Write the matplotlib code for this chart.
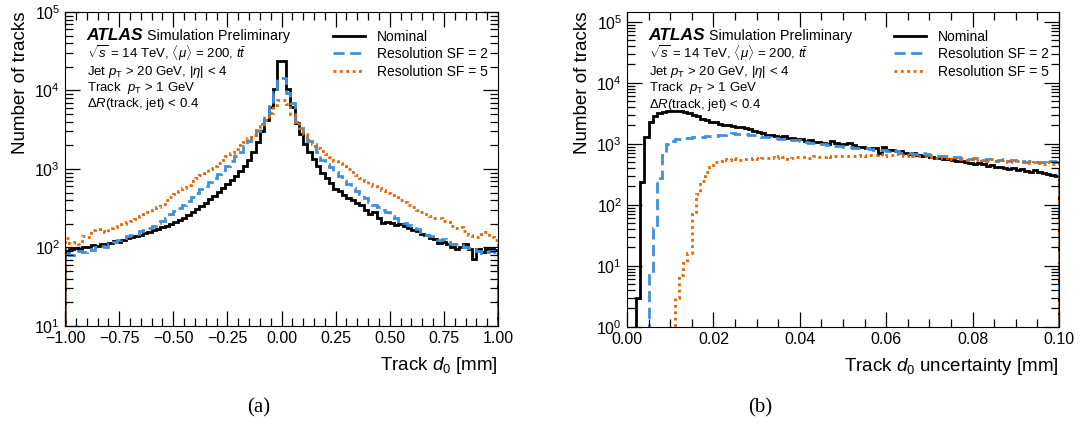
import matplotlib
matplotlib.use("Agg")
import matplotlib.pyplot as plt
import numpy as np
from matplotlib.ticker import MultipleLocator

plt.rcParams['font.family'] = ['Liberation Sans', 'DejaVu Sans']
plt.rcParams['mathtext.fontset'] = 'custom'
plt.rcParams['mathtext.rm'] = 'Liberation Sans'
plt.rcParams['mathtext.it'] = 'Liberation Sans:italic'
plt.rcParams['mathtext.bf'] = 'Liberation Sans:bold'

# ---- (a) track d0, 100 bins in [-1, 1] ----
d0_edges = np.linspace(-1.0, 1.0, 101)
d0_nominal = [
    90, 95, 98, 95, 102, 100, 108, 104, 112, 110,
    115, 120, 118, 125, 130, 136, 140, 145, 152, 158,
    165, 170, 180, 190, 200, 212, 225, 240, 260, 280,
    305, 335, 370, 410, 455, 510, 570, 640, 720, 820,
    950, 1100, 1300, 1650, 2200, 3000, 4200, 6200, 10500, 23500,
    23500, 10500, 6100, 3900, 2800, 2100, 1650, 1350, 1080, 900,
    770, 660, 560, 520, 460, 430, 400, 370, 350, 300,
    270, 285, 240, 205, 210, 205, 195, 200, 185, 175,
    165, 160, 150, 145, 130, 128, 115, 118, 110, 100,
    95, 100, 112, 95, 72, 95, 88, 96, 95, 92]
d0_sf2 = [
    85, 80, 84, 90, 88, 95, 92, 100, 105, 102,
    112, 118, 125, 130, 138, 145, 150, 160, 168, 178,
    190, 205, 220, 240, 265, 290, 320, 350, 390, 440,
    490, 550, 610, 690, 770, 860, 960, 1080, 1250, 1450,
    1650, 1950, 2300, 2500, 3000, 3700, 4800, 6300, 9500, 14400,
    14400, 9300, 6900, 4000, 3300, 2800, 2300, 1950, 1650, 1300,
    1150, 1050, 920, 820, 700, 640, 580, 520, 480, 430,
    380, 350, 330, 300, 280, 250, 235, 220, 205, 195,
    185, 170, 155, 145, 140, 130, 125, 128, 118, 112,
    110, 108, 100, 98, 95, 90, 85, 88, 90, 88]
d0_sf5 = [
    130, 115, 118, 112, 140, 135, 165, 170, 160, 158,
    175, 180, 190, 200, 210, 215, 230, 250, 265, 280,
    300, 330, 360, 400, 440, 480, 520, 570, 630, 700,
    760, 830, 900, 990, 1080, 1180, 1300, 1450, 1600, 1800,
    2000, 2200, 2450, 2700, 3100, 3500, 4200, 5200, 6500, 7600,
    7600, 6800, 5000, 4000, 3300, 2800, 2350, 2100, 1850, 1700,
    1550, 1400, 1280, 1180, 1080, 1000, 920, 830, 760, 700,
    650, 610, 580, 540, 500, 470, 440, 400, 380, 350,
    330, 300, 285, 270, 255, 240, 235, 220, 210, 190,
    175, 180, 160, 145, 140, 135, 150, 155, 135, 125]

# ---- (b) track d0 uncertainty, 100 bins in [0, 0.1] ----
sig_edges = np.linspace(0.0, 0.1, 101)
sig_nominal = [
    0, 0, 3, 235, 1270, 2240, 2900, 3200, 3300, 3400,
    3450, 3480, 3400, 3300, 3150, 3000, 2850, 2600, 2450, 2300,
    2250, 2150, 2050, 2000, 1950, 1880, 1900, 1850, 1750, 1650,
    1580, 1500, 1420, 1380, 1350, 1300, 1320, 1260, 1250, 1200,
    1180, 1120, 1150, 1080, 1060, 1020, 1000, 1120, 1020, 1000,
    980, 1020, 960, 900, 880, 870, 850, 860, 720, 900,
    800, 780, 760, 770, 710, 690, 700, 660, 640, 650,
    600, 590, 580, 570, 560, 540, 520, 530, 500, 480,
    470, 490, 460, 440, 450, 420, 410, 400, 390, 400,
    370, 380, 360, 350, 370, 340, 330, 320, 310, 300]
sig_sf2 = [
    0, 0, 0, 0, 0, 7, 42, 280, 650, 1000,
    1130, 1180, 1220, 1240, 1260, 1280, 1300, 1300, 1320, 1340,
    1350, 1380, 1420, 1450, 1480, 1470, 1450, 1430, 1400, 1380,
    1350, 1300, 1280, 1250, 1230, 1220, 1200, 1180, 1170, 1150,
    1120, 1080, 1050, 1020, 1000, 990, 960, 950, 930, 920,
    900, 880, 870, 860, 850, 840, 820, 800, 790, 780,
    770, 780, 760, 720, 700, 710, 690, 680, 700, 670,
    650, 640, 630, 620, 640, 610, 600, 590, 580, 570,
    580, 560, 550, 570, 540, 530, 550, 560, 520, 540,
    530, 520, 510, 530, 500, 510, 500, 490, 520, 500]
sig_sf5 = [
    0, 0, 0, 0, 0, 0, 0, 0, 0, 0,
    0, 3, 7, 11, 16, 70, 150, 250, 340, 420,
    500, 520, 560, 540, 580, 560, 550, 570, 560, 580,
    570, 590, 580, 600, 580, 640, 600, 560, 590, 600,
    610, 600, 590, 620, 600, 610, 620, 600, 630, 640,
    620, 630, 640, 620, 650, 640, 660, 650, 680, 640,
    650, 660, 670, 650, 640, 660, 620, 640, 630, 620,
    600, 590, 610, 580, 600, 560, 590, 570, 550, 560,
    540, 560, 550, 530, 560, 520, 540, 530, 510, 530,
    520, 500, 510, 490, 500, 480, 470, 500, 460, 480]

labels = ['Nominal', 'Resolution SF = 2', 'Resolution SF = 5']
colors = ['black', '#3f90da', '#e76300']
styles = ['-', (0, (4, 2)), (0, (1, 1.3))]

fig = plt.figure(figsize=(10.84, 4.34), dpi=100)
ax1 = fig.add_axes([0.060, 0.249, 0.3994, 0.7235])
ax2 = fig.add_axes([0.5784, 0.247, 0.3985, 0.7258])


def fmt(v, pos):
    return ('%.2f' % v).replace('-', '\u2212')


def draw(ax, edges, series, xlabel):
    for vals, c, ls, lab in zip(series, colors, styles, labels):
        ax.stairs(vals, edges, baseline=0, color=c, linestyle=ls, lw=2, label=lab)
    ax.set_yscale('log', nonpositive='clip')
    ax.tick_params(which='both', direction='in', top=True, right=True, labelsize=11.5)
    ax.tick_params(which='major', length=11, width=0.9)
    ax.tick_params(which='minor', length=6, width=0.9)
    ax.tick_params(axis='x', pad=4)
    ax.set_xlabel(xlabel, loc='right', fontsize=13.5, labelpad=6)
    ax.set_ylabel('Number of tracks', loc='top', fontsize=13.5, labelpad=4)
    ax.legend(loc='upper left', bbox_to_anchor=(0.612, 0.952), frameon=False,
              fontsize=10, handlelength=2.3, handletextpad=0.85,
              labelspacing=0.25, borderpad=0.2, borderaxespad=0)
    ax.text(0.05, 0.911, 'ATLAS', transform=ax.transAxes, fontsize=12.5,
            fontweight='bold', fontstyle='italic')
    ax.text(0.19, 0.911, 'Simulation Preliminary', transform=ax.transAxes, fontsize=10.3)
    info = [r'$\sqrt{s}$ = 14 TeV, $\langle\mu\rangle$ = 200, $t\bar{t}$',
            r'Jet $p_{\mathrm{T}}$ > 20 GeV, $|\eta|$ < 4',
            r'Track  $p_{\mathrm{T}}$ > 1 GeV',
            r'$\Delta R$(track, jet) < 0.4']
    for i, s in enumerate(info):
        ax.text(0.05, 0.852 - 0.052 * i, s, transform=ax.transAxes, fontsize=9.5)


draw(ax1, d0_edges, [d0_nominal, d0_sf2, d0_sf5], r'Track $d_0$ [mm]')
ax1.set_xlim(-1, 1)
ax1.set_ylim(10, 1e5)
ax1.xaxis.set_major_locator(MultipleLocator(0.25))
ax1.xaxis.set_minor_locator(MultipleLocator(0.05))
ax1.xaxis.set_major_formatter(plt.FuncFormatter(fmt))

draw(ax2, sig_edges, [sig_nominal, sig_sf2, sig_sf5], r'Track $d_0$ uncertainty [mm]')
ax2.set_xlim(0, 0.1)
ax2.set_ylim(1, 1.46e5)
ax2.xaxis.set_major_locator(MultipleLocator(0.02))
ax2.xaxis.set_minor_locator(MultipleLocator(0.005))
ax2.xaxis.set_major_formatter(plt.FuncFormatter(fmt))

fig.text(259 / 1084, 1 - 408 / 434, '(a)', ha='center', va='center',
         family='Liberation Serif', fontsize=15)
fig.text(760 / 1084, 1 - 408 / 434, '(b)', ha='center', va='center',
         family='Liberation Serif', fontsize=15)

fig.savefig('out.png', dpi=100)
